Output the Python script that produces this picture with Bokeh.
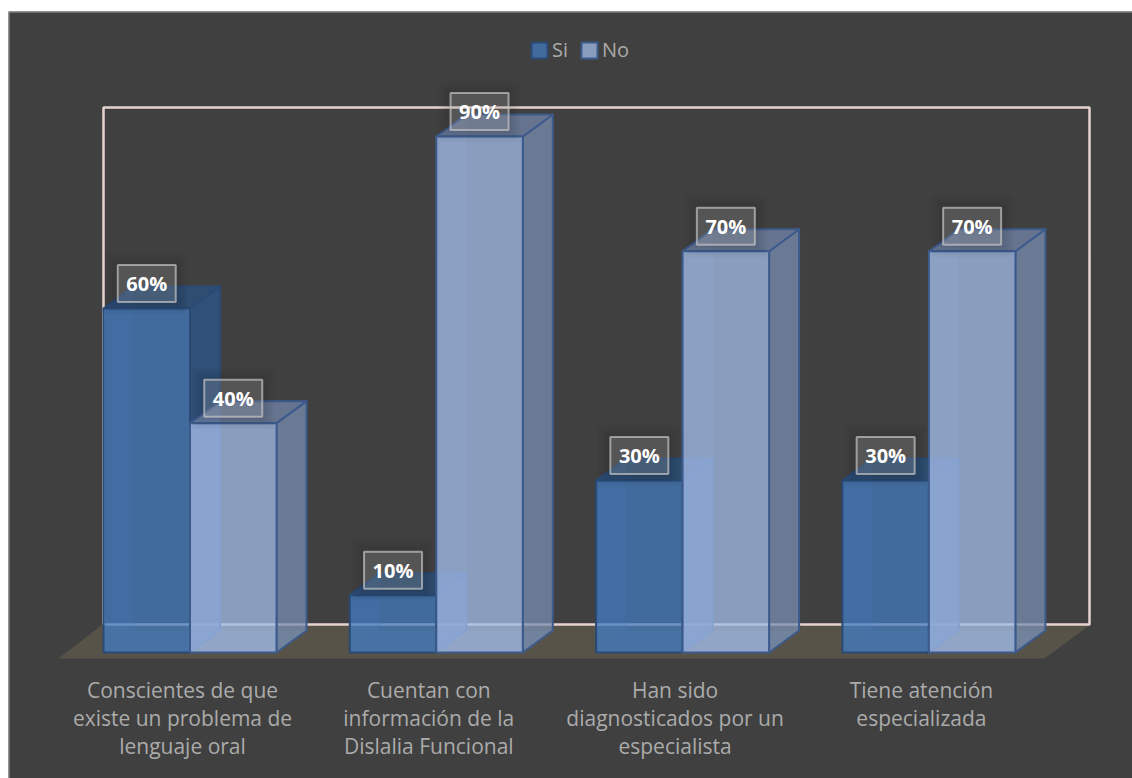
from bokeh.plotting import figure
from bokeh.embed import file_html
from bokeh.resources import INLINE
from bokeh.models import Range1d, Legend, LegendItem, ColumnDataSource
from bokeh.core.properties import value

categories = ["Conscientes de que\nexiste un problema de\nlenguaje oral",
              "Cuentan con\ninformación de la\nDislalia Funcional",
              "Han sido\ndiagnosticados por un\nespecialista",
              "Tiene atención\nespecializada"]
si_values = [60, 10, 30, 30]
no_values = [40, 90, 70, 70]
series_names = ["Si", "No"]

BG = "#404040"
TXT = "#ABABAB"
FONT = "Open Sans"

# page-pixel geometry of the plot
W, H = 1124, 767
ORG_X, ORG_Y = 8, 11            # where the canvas starts on the page
CAT_PX = 246.3
PCT_PX = 5.733
X0_PX, Y0_PX = 103, 652         # first bar's left, bars' base
DX = 30 / CAT_PX                # depth of the boxes
DY = 22 / PCT_PX
BAR = 86.5 / CAT_PX

def xv(px): return (px - X0_PX) / CAT_PX
def yv(px): return (Y0_PX - px) / PCT_PX

p = figure(width=W, height=H, output_backend="svg", toolbar_location=None,
           x_range=Range1d(xv(ORG_X), xv(ORG_X + W)),
           y_range=Range1d(yv(ORG_Y + H), yv(ORG_Y)),
           min_border_left=0, min_border_right=0, min_border_top=0, min_border_bottom=0,
           background_fill_color=BG, border_fill_color=BG, outline_line_color=None)
p.styles = {"margin-left": f"{ORG_X}px", "margin-top": f"{ORG_Y}px"}
p.grid.visible = False
p.axis.visible = False

# chart-area edge (top and left)
p.line([xv(ORG_X + 0.5), xv(ORG_X + 0.5), xv(ORG_X + W)],
       [yv(ORG_Y + H), yv(ORG_Y + 0.5), yv(ORG_Y + 0.5)], line_color="#808080", line_width=1.5)

# back wall outline and floor
p.patch([xv(58), xv(1044), xv(1090), xv(102)], [yv(658), yv(658), yv(624), yv(624)],
        fill_color="#575348", line_color=None)
p.line([xv(103), xv(103), xv(1089), xv(1089), xv(103)],
       [yv(624), yv(107), yv(107), yv(624), yv(624)],
       line_color="#E6D3CF", line_width=2.5)

def box(vals, offset, front, front_alpha, side, top, inner, edge):
    xs = [i + offset for i in range(len(vals))]
    # interior faces seen through the front
    p.patches([[x, x + DX, x + DX, x] for x in xs],
              [[0, DY, DY + v, v] for v in vals],
              fill_color=inner, fill_alpha=0.16, line_color=edge, line_alpha=0.25, line_width=1)
    p.patches([[x, x + BAR, x + BAR + DX, x + DX] for x in xs],
              [[0, 0, DY, DY] for v in vals],
              fill_color=inner, fill_alpha=0.2, line_color=None)
    p.patches([[x + BAR, x + BAR + DX, x + BAR + DX, x + BAR] for x in xs],
              [[0, DY, DY + v, v] for v in vals],
              fill_color=side, fill_alpha=0.75, line_color=edge, line_width=2, line_join="round")
    p.patches([[x, x + BAR, x + BAR + DX, x + DX] for x in xs],
              [[v, v, v + DY, v + DY] for v in vals],
              fill_color=top, fill_alpha=0.75, line_color=edge, line_width=2, line_join="round")
    return p.quad(left=xs, right=[x + BAR for x in xs], bottom=0, top=vals,
                  fill_color=front, fill_alpha=front_alpha, line_color=edge, line_width=2)

r_si = box(si_values, 0.0, "#427BC1", 0.72, "#2B558B", "#285180", "#4A80C8", "#2A4A75")
r_no = box(no_values, BAR, "#A2BBE6", 0.76, "#788DB0", "#7385AB", "#7A98E0", "#3C5A8C")

# data labels
lab_x = [i + off + BAR / 2 for off in (0, BAR) for i in range(4)]
lab_v = si_values + no_values
lab = ColumnDataSource(dict(x=lab_x, y=[v + 25 / PCT_PX for v in lab_v],
                            t=[f"{v}%" for v in lab_v]))
for grow in (24, 18, 12, 6):
    p.rect("x", "y", width=58 + grow, height=37 + grow, width_units="screen", height_units="screen",
           source=lab, fill_color="black", fill_alpha=0.03, line_color=None)
p.rect("x", "y", width=58, height=37, width_units="screen", height_units="screen", source=lab,
       fill_color="white", fill_alpha=0.15, line_color="#C4C4C4", line_alpha=0.7, line_width=2)
p.text("x", "y", text="t", source=lab, text_align="center", text_baseline="middle",
       text_color="white", text_font=value(FONT), text_font_style="bold", text_font_size="20px")

# category labels
p.text([i + (182 - X0_PX) / CAT_PX for i in range(4)], [yv(675)] * 4, text=categories,
       text_align="center", text_baseline="top", text_color=TXT, text_font=value(FONT),
       text_font_size="21px", text_line_height=1.0)

# legend
leg = Legend(items=[LegendItem(label=series_names[0], renderers=[r_si]),
                    LegendItem(label=series_names[1], renderers=[r_no])],
             orientation="horizontal", location=(521, 715),
             background_fill_alpha=0, border_line_color=None, padding=0, margin=0,
             spacing=7, label_standoff=3, glyph_width=20, glyph_height=20,
             label_text_color=TXT, label_text_font=FONT, label_text_font_size="20px")
p.add_layout(leg, "center")

open("out.html", "w").write(file_html(p, INLINE))
